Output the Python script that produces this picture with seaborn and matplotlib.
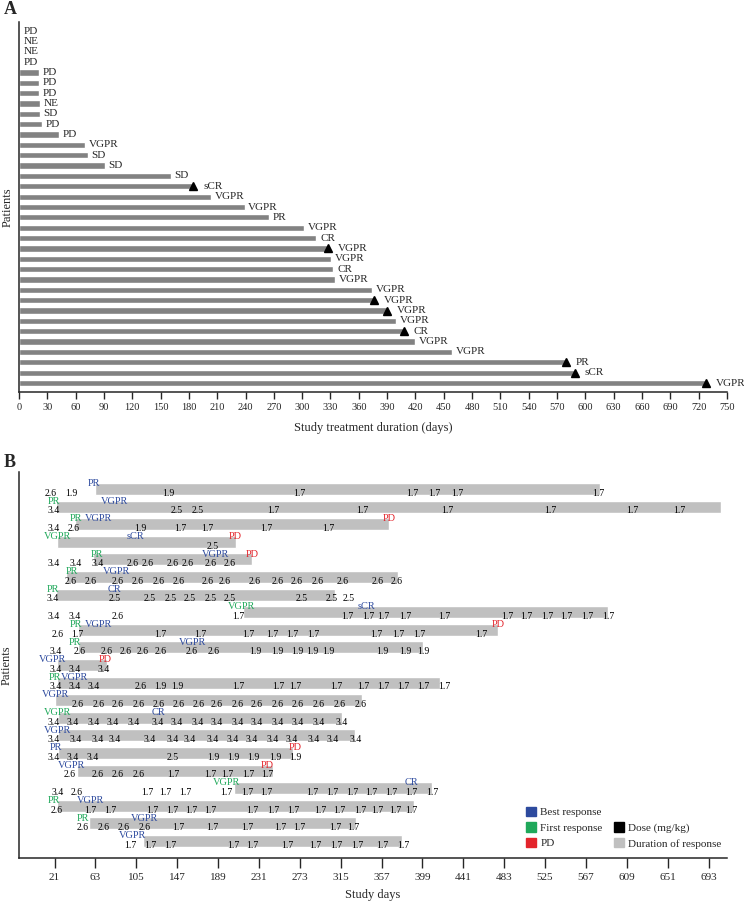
import numpy as np
import pandas as pd
import matplotlib
matplotlib.use("Agg")
import matplotlib.pyplot as plt
import seaborn as sns
from matplotlib.patches import Patch

sns.set_style("ticks")
plt.rcParams['font.family'] = ['Liberation Serif', 'DejaVu Serif']

# ---- panel A: treatment duration per patient
a_resp = ["PD", "NE", "NE", "PD", "PD", "PD", "PD", "NE", "SD", "PD", "PD", "VGPR",
          "SD", "SD", "SD", "sCR", "VGPR", "VGPR", "PR", "VGPR", "CR", "VGPR", "VGPR",
          "CR", "VGPR", "VGPR", "VGPR", "VGPR", "VGPR", "CR", "VGPR", "VGPR", "PR",
          "sCR", "VGPR"]
a_days = [0, 0, 0, 0, 21, 21, 21, 22, 22, 24, 42, 70, 73, 91, 161, 186, 203, 239,
          265, 302, 315, 329, 331, 333, 335, 374, 378, 391, 399, 409, 420, 459, 581,
          590, 729]
a_ongoing = [15, 21, 26, 27, 29, 32, 33, 34]
a_ticks = list(range(0, 751, 30))

# ---- panel B: swimmer plot
b_start = [63, 23, 42, 24, 61, 33, 22, 215, 45, 45, 24, 24, 21, 25, 25, 25, 44, 205, 24, 56, 112]
b_end = [581, 706, 365, 207, 224, 374, 309, 590, 477, 400, 75, 417, 337, 316, 330, 266, 245, 409, 390, 331, 378]

best_rows = list(range(21))
best_days = [62, 83, 66, 104, 186, 85, 83, 342, 66, 163, 19, 42, 22, 128, 24, 22, 39, 388, 58, 114, 101]
best_text = ["PR", "VGPR", "VGPR", "sCR", "VGPR", "VGPR", "CR", "sCR", "VGPR", "VGPR", "VGPR",
             "VGPR", "VGPR", "CR", "VGPR", "PR", "VGPR", "CR", "VGPR", "VGPR", "VGPR"]

first_rows = [1, 2, 3, 4, 5, 6, 7, 8, 9, 11, 13, 17, 18, 19]
first_days = [20, 43, 24, 65, 39, 19, 213, 43, 42, 21, 24, 198, 20, 50]
first_text = ["PR", "PR", "VGPR", "PR", "PR", "PR", "VGPR", "PR", "PR", "PR", "VGPR", "VGPR", "PR", "PR"]

pd_rows = [2, 3, 4, 8, 10, 15, 16]
pd_days = [365, 207, 224, 477, 73, 268, 240]

dose_days = [
    [17, 38, 138, 273, 389, 411, 435, 580],
    [20, 147, 168, 246, 337, 425, 530, 615, 663],
    [20, 41, 109, 150, 178, 239, 302],
    [183],
    [20, 43, 65, 101, 117, 142, 158, 181, 201],
    [38, 58, 86, 106, 128, 148, 178, 196, 227, 250, 270, 291, 317, 353, 373],
    [19, 83, 119, 140, 160, 181, 201, 275, 306, 323],
    [20, 42, 86, 210, 322, 343, 359, 381, 422, 486, 506, 527, 547, 568, 590],
    [24, 44, 130, 171, 220, 245, 265, 287, 352, 374, 396, 460],
    [22, 47, 75, 94, 111, 130, 162, 184, 227, 250, 270, 286, 302, 358, 381, 400],
    [22, 42, 71],
    [22, 42, 61, 109, 130, 147, 210, 251, 268, 311, 338, 359, 379, 400, 421],
    [45, 66, 86, 107, 128, 148, 169, 188, 209, 229, 250, 271, 292, 314, 335],
    [20, 40, 61, 81, 102, 127, 147, 168, 188, 209, 229, 250, 271, 292, 316],
    [20, 43, 65, 83, 119, 142, 160, 183, 204, 224, 245, 265, 287, 307, 330],
    [20, 40, 60, 142, 184, 205, 225, 248, 268],
    [37, 65, 86, 107, 143, 181, 199, 220, 240],
    [24, 44, 116, 135, 155, 198, 219, 239, 286, 306, 327, 347, 367, 388, 409],
    [23, 58, 78, 121, 142, 162, 181, 224, 246, 266, 294, 314, 335, 353, 371, 388],
    [50, 71, 92, 114, 148, 183, 219, 253, 273, 309, 328],
    [99, 119, 140, 205, 224, 260, 289, 311, 332, 358, 379],
]
dose_vals = [
    ["2.6", "1.9", "1.9"] + ["1.7"] * 5,
    ["3.4", "2.5", "2.5"] + ["1.7"] * 6,
    ["3.4", "2.6", "1.9"] + ["1.7"] * 4,
    ["2.5"],
    ["3.4"] * 3 + ["2.6"] * 6,
    ["2.6"] * 15,
    ["3.4"] + ["2.5"] * 9,
    ["3.4", "3.4", "2.6"] + ["1.7"] * 12,
    ["2.6"] + ["1.7"] * 11,
    ["3.4"] + ["2.6"] * 7 + ["1.9"] * 8,
    ["3.4"] * 3,
    ["3.4"] * 3 + ["2.6"] + ["1.9"] * 2 + ["1.7"] * 9,
    ["2.6"] * 15,
    ["3.4"] * 15,
    ["3.4"] * 15,
    ["3.4"] * 3 + ["2.5"] + ["1.9"] * 5,
    ["2.6"] * 4 + ["1.7"] * 5,
    ["3.4", "2.6"] + ["1.7"] * 13,
    ["2.6"] + ["1.7"] * 15,
    ["2.6"] * 4 + ["1.7"] * 7,
    ["1.7"] * 11,
]
b_ticks = list(range(21, 694, 42))

BLUE = "#2d4a9e"
GREEN = "#1fa85a"
RED = "#e3242b"
GREY_A = "#828282"
GREY_B = "#c0c0c0"

fig = plt.figure(figsize=(7.44, 9.02), dpi=100)

# ---------------- panel A
ax1 = fig.add_axes([0.0255, 0.5654, 0.9516, 0.4102])
pid = ["P%d" % (i + 1) for i in range(len(a_days))]
dfa = pd.DataFrame({"patient": pid, "days": a_days, "resp": a_resp})
sns.barplot(data=dfa, x="days", y="patient", orient="h", color=GREY_A,
            saturation=1, width=0.6, errorbar=None, ax=ax1)
for i, (d, r) in enumerate(zip(a_days, a_resp)):
    if i in a_ongoing:
        ax1.plot(d - 1.5, i, marker="^", color="black", markersize=6, zorder=5)
        off = 9
    elif d == 0:
        off = 5
    else:
        off = 4
    ax1.text(d + off, i, r, ha="left", va="center", fontsize=8)
ax1.set_xlim(0, 750)
ax1.set_ylim(len(a_days) - 0.13, -0.87)
ax1.set_xticks(a_ticks)
ax1.set_yticks([])
ax1.set_xlabel("Study treatment duration (days)", fontsize=9, labelpad=7)
ax1.set_ylabel("Patients", fontsize=9, labelpad=4)
ax1.tick_params(axis="x", length=5, width=1, pad=3, labelsize=7.5)
sns.despine(ax=ax1)
for s in ["left", "bottom"]:
    ax1.spines[s].set_linewidth(1.1)
fig.text(0.005, 0.989, "A", fontsize=13, fontweight="bold", va="center")

# ---------------- panel B
ax2 = fig.add_axes([0.0249, 0.0488, 0.9523, 0.428])
rows = np.arange(len(b_start))
ax2.barh(rows, np.array(b_end) - np.array(b_start), left=b_start, height=0.68,
         color=GREY_B, zorder=1)
for r, d, t in zip(best_rows, best_days, best_text):
    ax2.text(d, r - 0.3, t, color=BLUE, ha="center", va="center", fontsize=7.5, zorder=3)
for r, d, t in zip(first_rows, first_days, first_text):
    ax2.text(d, r - 0.3, t, color=GREEN, ha="center", va="center", fontsize=7.5, zorder=3)
for r, d in zip(pd_rows, pd_days):
    ax2.text(d, r - 0.3, "PD", color=RED, ha="center", va="center", fontsize=7.5, zorder=3)
for r in rows:
    for d, v in zip(dose_days[r], dose_vals[r]):
        ax2.text(d, r + 0.25, v, color="black", ha="center", va="center", fontsize=7, zorder=2)
ax2.set_xlim(-16, 712)
ax2.set_ylim(len(b_start) - 0.03, -0.97)
ax2.set_xticks(b_ticks)
ax2.set_yticks([])
ax2.set_xlabel("Study days", fontsize=9, labelpad=5)
ax2.set_ylabel("Patients", fontsize=9, labelpad=4)
ax2.tick_params(axis="x", length=7, width=1, pad=4, labelsize=8)
sns.despine(ax=ax2)
for s in ["left", "bottom"]:
    ax2.spines[s].set_linewidth(1.1)

handles = [Patch(color=BLUE), Patch(color=GREEN), Patch(color=RED),
           Patch(color="none"), Patch(color="black"), Patch(color=GREY_B)]
labels = ["Best response", "First response", "PD", "", "Dose (mg/kg)", "Duration of response"]
ax2.legend(handles, labels, ncol=2, loc="lower right", bbox_to_anchor=(1.0, 0.01),
           frameon=False, fontsize=8, handlelength=0.9, handleheight=0.9,
           handletextpad=0.4, columnspacing=1.0, labelspacing=0.45, borderpad=0)
fig.text(0.005, 0.487, "B", fontsize=13, fontweight="bold", va="center")

fig.savefig("out.png", dpi=100)
